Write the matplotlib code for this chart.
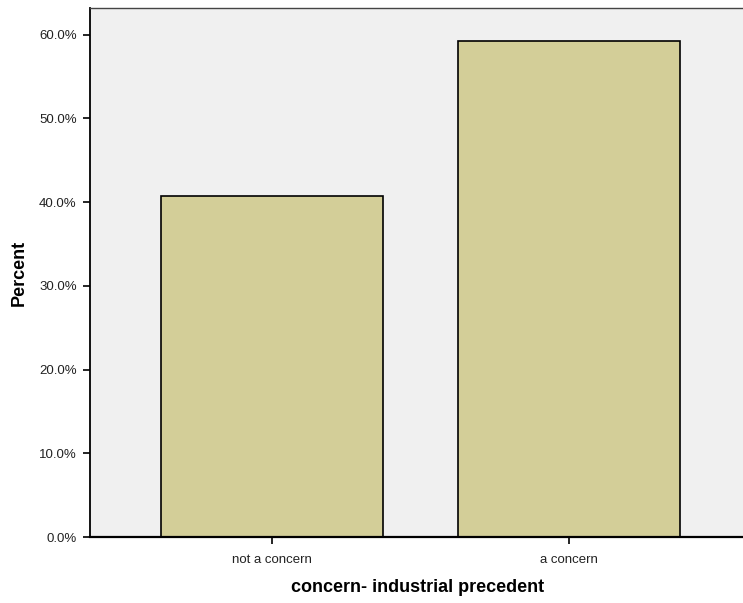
import numpy as np
import matplotlib.pyplot as plt
from matplotlib.ticker import FuncFormatter

# --- Data ---
categories = ['not a concern', 'a concern']
percents = [40.7, 59.3]

plt.rcParams['font.family'] = ['Liberation Sans', 'DejaVu Sans']

fig = plt.figure(figsize=(7.43, 6.03), dpi=100)
# axes run slightly past the right edge, as in the original
ax = fig.add_axes([90/743, 66/603, (751-90)/743, (537-8)/603])
ax.set_facecolor('#F0F0F0')

x = np.arange(len(categories))
ax.bar(x, percents, width=0.75, color='#D3CE98', edgecolor='black', linewidth=1.2, zorder=2)

ax.set_xlim(-0.613, 1.613)
ax.set_ylim(0, 63.2)
ax.set_yticks(np.arange(0, 61, 10))
ax.yaxis.set_major_formatter(FuncFormatter(lambda v, p: f'{v:.1f}%'))
ax.set_xticks(x)
ax.set_xticklabels(categories)

ax.tick_params(axis='both', labelsize=9.5, length=5, width=1.2, color='black', labelcolor='#222222')
ax.tick_params(axis='y', pad=4.5)
ax.tick_params(axis='x', pad=7)

ax.spines['left'].set_linewidth(1.3)
ax.spines['left'].set_color('black')
ax.spines['top'].set_linewidth(1)
ax.spines['top'].set_color('#444444')
ax.spines['bottom'].set_linewidth(1.6)
ax.spines['right'].set_visible(False)

ax.set_ylabel('Percent', fontsize=13, fontweight='bold')
ax.set_xlabel('concern- industrial precedent', fontsize=13, fontweight='bold')
ax.yaxis.set_label_coords(-(90-19)/(751-90), 0.5)
ax.yaxis.label.set_va('center')
ax.xaxis.set_label_coords((418-90)/(751-90), -(588-537)/(537-8))
ax.xaxis.label.set_va('center')

fig.savefig('out.png', dpi=100)
